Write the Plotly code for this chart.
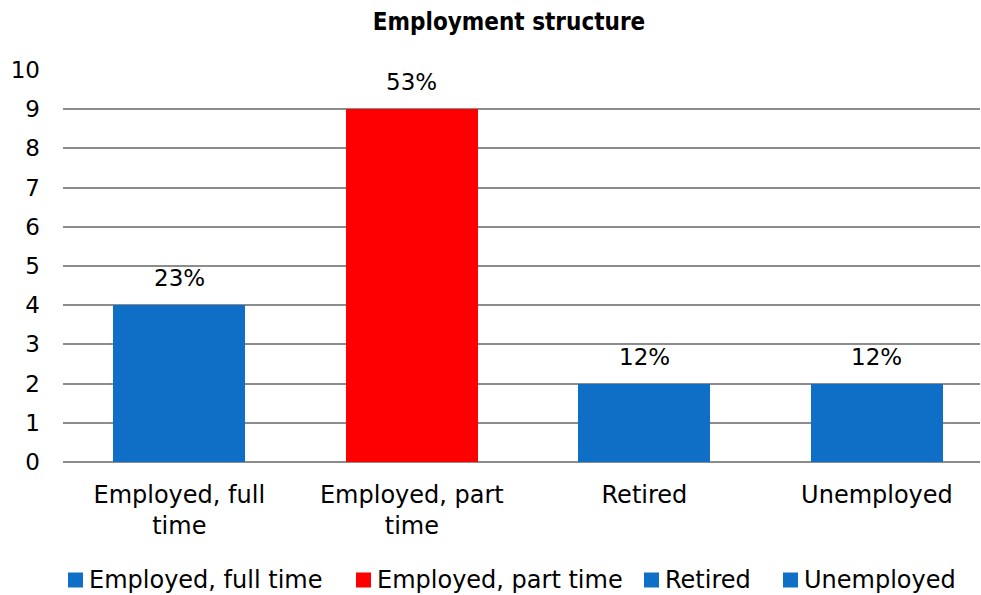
import plotly.graph_objects as go

# Employment structure: respondents per status and their share
categories = ["Employed, full time", "Employed, part time", "Retired", "Unemployed"]
tick_labels = ["Employed, full<br>time", "Employed, part<br>time", "Retired", "Unemployed"]
counts = [4, 9, 2, 2]
shares = [23, 53, 12, 12]
colors = ["#0F6FC6", "#FF0000", "#0F6FC6", "#0F6FC6"]

FONT = "DejaVu Sans, sans-serif"
TITLE_FONT = "DejaVu Sans Condensed, DejaVu Sans, sans-serif"

W, H = 981, 595
M_L, M_R, M_T, M_B = 63, 1, 70, 133
PLOT_W, PLOT_H = W - M_L - M_R, H - M_T - M_B

fig = go.Figure()
for cat, tick, val, col in zip(categories, tick_labels, counts, colors):
    fig.add_trace(go.Bar(
        x=[tick], y=[val], name=cat,
        marker=dict(color=col, line=dict(width=0)),
        width=0.568, showlegend=False,
    ))

# share labels above each bar
for tick, val, pct in zip(tick_labels, counts, shares):
    fig.add_annotation(
        x=tick, y=val, text=f"{pct}%", showarrow=False,
        yanchor="middle", yshift=27,
        font=dict(size=23, family=FONT, color="#000000"),
    )

# legend row along the bottom edge: square swatch followed by its label
legend_left_px = [68, 356, 644, 783]
legend_y_px = 580
swatch = 15


def px_x(px):
    return (px - M_L) / PLOT_W


def px_y(py):
    return (H - M_B - py) / PLOT_H


for cat, col, left in zip(categories, colors, legend_left_px):
    fig.add_shape(
        type="rect", xref="paper", yref="paper",
        x0=px_x(left), x1=px_x(left + swatch),
        y0=px_y(legend_y_px + swatch / 2), y1=px_y(legend_y_px - swatch / 2),
        fillcolor=col, line=dict(width=0),
    )
    fig.add_annotation(
        xref="paper", yref="paper", x=px_x(left + swatch + 4), y=px_y(legend_y_px),
        xanchor="left", yanchor="middle", showarrow=False, text=cat,
        font=dict(size=24, family=FONT, color="#000000"),
    )

fig.update_layout(
    width=W, height=H,
    barmode="overlay",
    paper_bgcolor="white", plot_bgcolor="white",
    margin=dict(l=M_L, r=M_R, t=M_T, b=M_B, autoexpand=False),
    font=dict(family=FONT, size=24, color="#000000"),
    title=dict(text="<b>Employment structure</b>", x=509 / W, xanchor="center",
               y=1 - 22 / H, yanchor="middle",
               font=dict(size=24, family=TITLE_FONT)),
    xaxis=dict(
        categoryorder="array", categoryarray=tick_labels,
        range=[-0.5, 3.443], showgrid=False, showline=False, automargin=False,
        ticks="", ticklabelstandoff=16, tickfont=dict(size=24),
    ),
    yaxis=dict(
        range=[0, 10], dtick=1, showgrid=True, gridcolor="#8C8C8C", gridwidth=2,
        zeroline=True, zerolinecolor="#8C8C8C", zerolinewidth=2, automargin=False,
        showline=False, ticks="", ticklabelstandoff=22, tickfont=dict(size=23),
    ),
    showlegend=False,
    bargap=0,
)

fig.write_html("out.html")
